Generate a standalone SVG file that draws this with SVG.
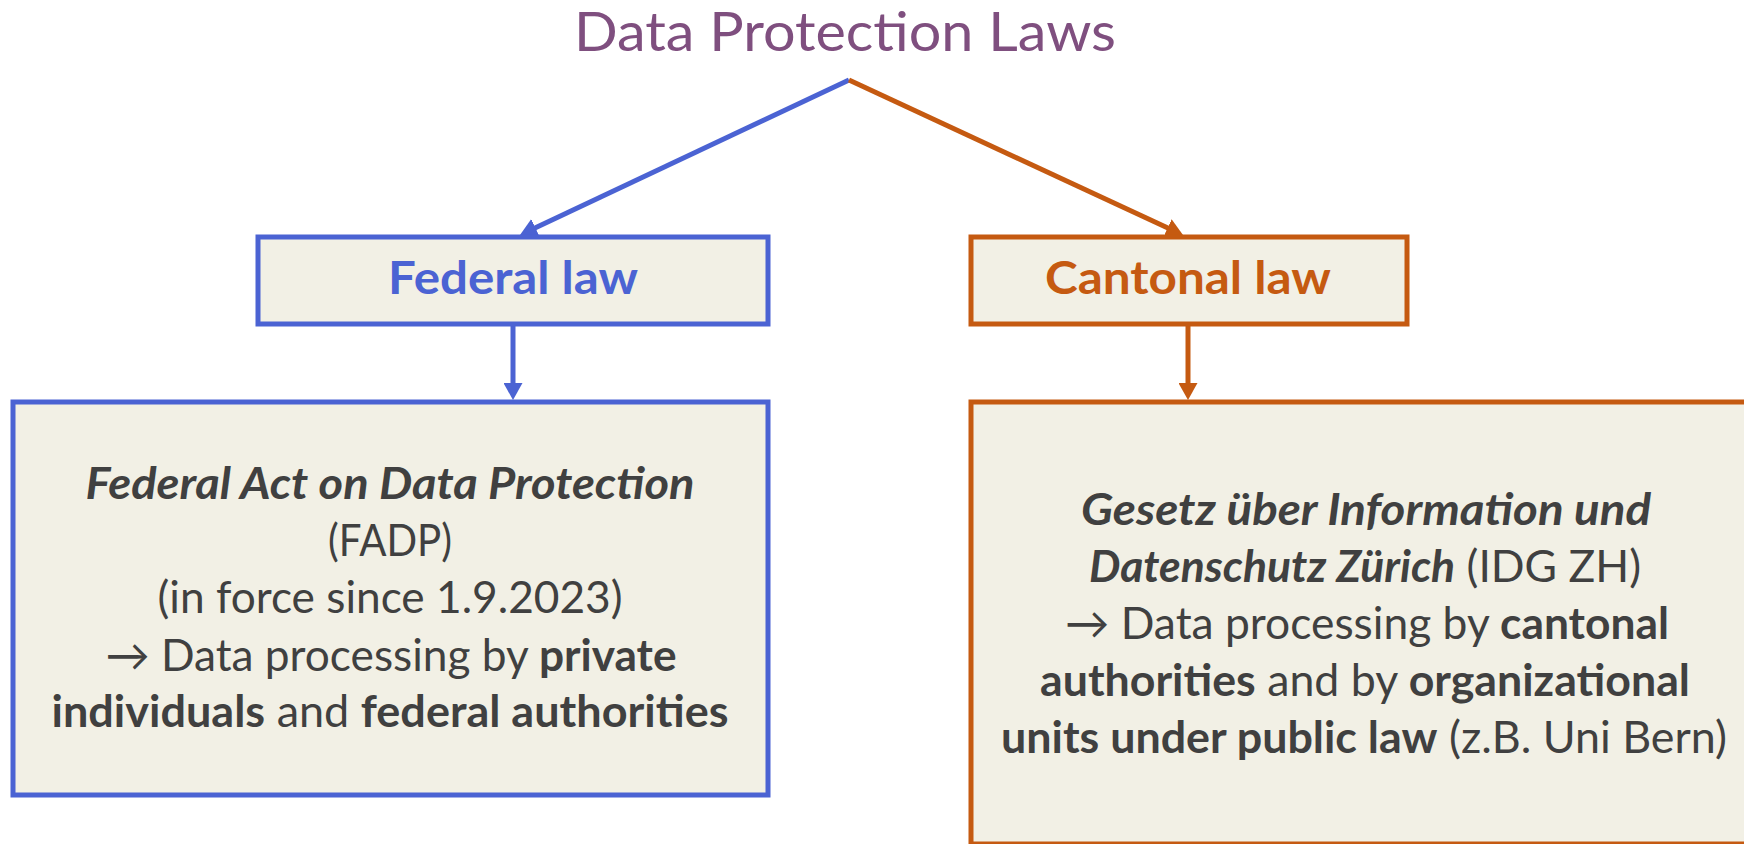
<svg xmlns="http://www.w3.org/2000/svg" width="1744" height="844" viewBox="0 0 1744 844">
  <style>
    text { font-family: Lato, "Open Sans", "DejaVu Sans", sans-serif; text-anchor: middle; }
    .title { font-size: 54px; fill: #7f4f7f; }
    .label { font-size: 45px; font-weight: bold; }
    .body { font-size: 44px; fill: #404040; }
    .b { font-weight: bold; }
    .i { font-style: italic; }
    .box { fill: #f2f0e5; stroke-width: 5; }
    .blue { stroke: #4b63d3; }
    .orange { stroke: #c55a11; }
    .link { fill: none; stroke-width: 5; }
  </style>
  <defs>
    <marker id="headBlue" markerUnits="userSpaceOnUse" markerWidth="17" markerHeight="19" viewBox="0 0 17 19" refX="11" refY="9.5" orient="auto">
      <path d="M0,0 L17,9.5 L0,19 Z" fill="#4b63d3"/>
    </marker>
    <marker id="headOrange" markerUnits="userSpaceOnUse" markerWidth="17" markerHeight="19" viewBox="0 0 17 19" refX="11" refY="9.5" orient="auto">
      <path d="M0,0 L17,9.5 L0,19 Z" fill="#c55a11"/>
    </marker>
  </defs>
  <rect width="1744" height="844" fill="#ffffff"/>

  <g id="title">
    <text class="title" x="845" y="51" textLength="542" lengthAdjust="spacingAndGlyphs">Data Protection Laws</text>
  </g>

  <g id="connectors">
    <path class="link blue" d="M849,80 L525.4,232.4" marker-end="url(#headBlue)"/>
    <path class="link orange" d="M849,80 L1177.6,232.5" marker-end="url(#headOrange)"/>
    <path class="link blue" d="M513,324 L513,394" marker-end="url(#headBlue)"/>
    <path class="link orange" d="M1188,324 L1188,394" marker-end="url(#headOrange)"/>
  </g>

  <g id="federal-law">
    <rect class="box blue" x="258" y="237" width="510" height="87"/>
    <text class="label" x="513" y="294" fill="#4b63d3" textLength="250" lengthAdjust="spacingAndGlyphs">Federal law</text>
  </g>

  <g id="cantonal-law">
    <rect class="box orange" x="971" y="237" width="436" height="87"/>
    <text class="label" x="1188" y="294" fill="#c55a11" textLength="286" lengthAdjust="spacingAndGlyphs">Cantonal law</text>
  </g>

  <g id="fadp">
    <rect class="box blue" x="13" y="402" width="755" height="393"/>
    <text class="body b i" x="390" y="499" textLength="609" lengthAdjust="spacingAndGlyphs">Federal Act on Data Protection</text>
    <text class="body" x="390" y="556" textLength="124" lengthAdjust="spacingAndGlyphs">(FADP)</text>
    <text class="body" x="390" y="613" textLength="465" lengthAdjust="spacingAndGlyphs">(in force since 1.9.2023)</text>
    <text class="body" x="391" y="671" textLength="571" lengthAdjust="spacingAndGlyphs">→ Data processing by <tspan class="b">private</tspan></text>
    <text class="body" x="390" y="727" textLength="677" lengthAdjust="spacingAndGlyphs"><tspan class="b">individuals</tspan> and <tspan class="b">federal authorities</tspan></text>
  </g>

  <g id="idg-zh">
    <rect class="box orange" x="971" y="402" width="790" height="442"/>
    <text class="body b i" x="1366" y="525" textLength="570" lengthAdjust="spacingAndGlyphs">Gesetz über Information und</text>
    <text class="body" x="1365" y="582" textLength="552" lengthAdjust="spacingAndGlyphs"><tspan class="b i">Datenschutz Zürich</tspan> (IDG ZH)</text>
    <text class="body" x="1367" y="639" textLength="604" lengthAdjust="spacingAndGlyphs">→ Data processing by <tspan class="b">cantonal</tspan></text>
    <text class="body" x="1365" y="696" textLength="650" lengthAdjust="spacingAndGlyphs"><tspan class="b">authorities</tspan> and by <tspan class="b">organizational</tspan></text>
    <text class="body" x="1364" y="753" textLength="726" lengthAdjust="spacingAndGlyphs"><tspan class="b">units under public law</tspan> (z.B. Uni Bern)</text>
  </g>
</svg>
